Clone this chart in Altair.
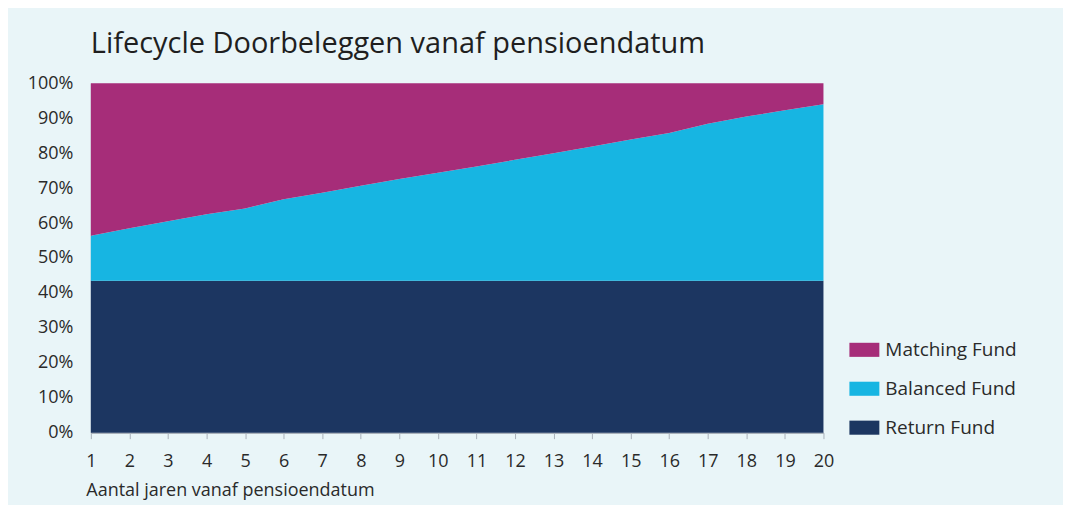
import altair as alt
import pandas as pd

years = list(range(1, 21))
series_names = ["Matching Fund", "Balanced Fund", "Return Fund"]
series_colors = ["#A62D79", "#17B5E2", "#1C3661"]

return_fund = [43.5, 43.5, 43.5, 43.5, 43.5, 43.5, 43.5, 43.5, 43.5, 43.5,
               43.5, 43.5, 43.5, 43.5, 43.5, 43.5, 43.5, 43.5, 43.5, 43.5]
balanced_fund = [12.9, 15.0, 17.0, 19.0, 20.7, 23.3, 25.2, 27.2, 29.1, 30.9,
                 32.7, 34.6, 36.5, 38.4, 40.4, 42.3, 44.9, 47.0, 48.8, 50.5]
matching_fund = [43.6, 41.5, 39.5, 37.5, 35.8, 33.2, 31.3, 29.3, 27.4, 25.6,
                 23.8, 21.9, 20.0, 18.1, 16.1, 14.2, 11.6, 9.5, 7.7, 6.0]

y_ticks = [0, 10, 20, 30, 40, 50, 60, 70, 80, 90, 100]

rows = []
for i, yr in enumerate(years):
    rows.append({"jaar": yr, "fonds": "Return Fund", "waarde": return_fund[i], "volg": 0})
    rows.append({"jaar": yr, "fonds": "Balanced Fund", "waarde": balanced_fund[i], "volg": 1})
    rows.append({"jaar": yr, "fonds": "Matching Fund", "waarde": matching_fund[i], "volg": 2})
df = pd.DataFrame(rows)

FONT = "Open Sans"
TXT = "#2A2A2A"

chart = alt.Chart(df).mark_area(interpolate="linear").encode(
    x=alt.X("jaar:Q",
            scale=alt.Scale(domain=[1, 20], nice=False, zero=False),
            axis=alt.Axis(values=years, format="d", title="Aantal jaren vanaf pensioendatum",
                          grid=False, domainColor="#A9B1BA", domainWidth=1.5,
                          tickColor="#A9B1BA", tickSize=6, labelPadding=14,
                          labelFontSize=18, labelColor=TXT, labelFont=FONT,
                          titleFont=FONT, titleFontSize=18, titleFontWeight="normal",
                          titleColor=TXT, titleAnchor="start", titleAlign="left",
                          titleX=-5, titleY=49, labelFlush=False)),
    y=alt.Y("waarde:Q", stack="zero",
            scale=alt.Scale(domain=[0, 100], nice=False),
            axis=alt.Axis(values=y_ticks, labelExpr="datum.value + '%'", title=None,
                          grid=False, ticks=False, domainColor="#A9B1BA", domainWidth=1,
                          labelPadding=18, labelFontSize=18, labelColor=TXT,
                          labelFont=FONT)),
    color=alt.Color("fonds:N",
                    scale=alt.Scale(domain=series_names, range=series_colors),
                    legend=alt.Legend(title=None, orient="none", legendX=760, legendY=252,
                                      symbolType="M-1,-0.47H1V0.47H-1Z", symbolSize=900,
                                      symbolStrokeWidth=0, labelFontSize=19,
                                      labelColor=TXT, labelFont=FONT, labelOffset=6,
                                      rowPadding=14, padding=0)),
    order=alt.Order("volg:Q", sort="ascending"),
).properties(
    width=734,
    height=350,
    title=alt.TitleParams("Lifecycle Doorbeleggen vanaf pensioendatum", anchor="start",
                          frame="group", fontSize=29, font=FONT, fontWeight="normal",
                          color="#1F1F1F", offset=15),
    autosize=alt.AutoSizeParams(type="none"),
    padding={"left": 83, "top": 75, "right": 240, "bottom": 72},
    background="#E9F5F8",
).configure_view(stroke=None)

chart.save("out.html", embed_options={"renderer": "svg", "actions": False})
